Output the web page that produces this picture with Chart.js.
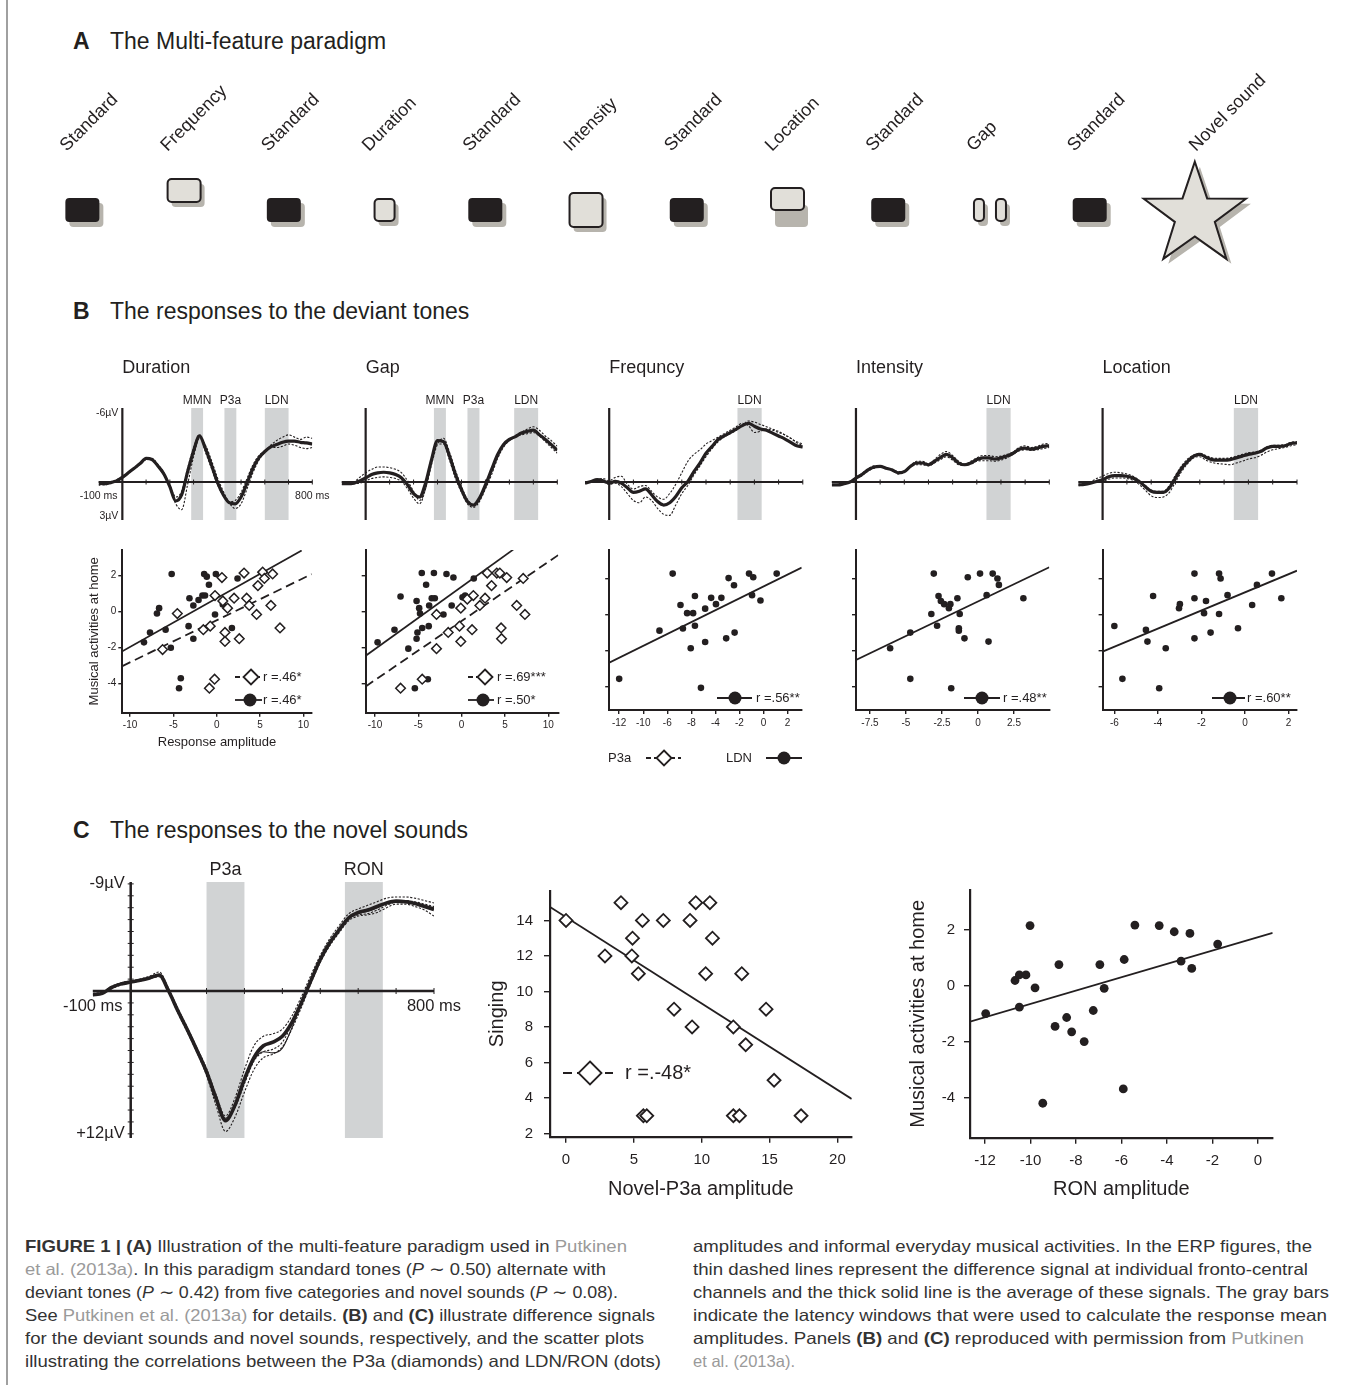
<!DOCTYPE html>
<html>
<head>
<meta charset="utf-8">
<title>Figure 1 - multi-feature paradigm</title>
<script src="https://cdn.jsdelivr.net/npm/chart.js@4.4.1/dist/chart.umd.min.js"></script>
<style>
  body { margin: 0; background: #fff; }
  #page { position: relative; width: 1350px; height: 1385px; overflow: hidden;
          font-family: "Liberation Sans", Arial, Helvetica, sans-serif; color: #231f20; }
  #page canvas { position: absolute; }
  .rule { position: absolute; left: 6px; top: 0; width: 2px; height: 1385px; background: #a0a0a0; }
  .head { position: absolute; left: 73px; font-size: 23px; line-height: 27px; white-space: nowrap; }
  .head b { display: inline-block; width: 37px; }
  .cap { position: absolute; font-size: 16.5px; line-height: 23px; white-space: nowrap; color: #333;
         transform-origin: 0 50%; }
  .cap .ref { color: #9a9a9a; }
</style>
</head>
<body>
<div id="page">
  <div class="rule"></div>
  <div class="head" style="top:28px"><b>A</b>The Multi-feature paradigm</div>
  <div class="head" style="top:298px"><b>B</b>The responses to the deviant tones</div>
  <div class="head" style="top:817px"><b>C</b>The responses to the novel sounds</div>

  <canvas id="paradigm"></canvas>
  <canvas id="erpDur"></canvas>
  <canvas id="erpGap"></canvas>
  <canvas id="erpFreq"></canvas>
  <canvas id="erpInt"></canvas>
  <canvas id="erpLoc"></canvas>
  <canvas id="scDur"></canvas>
  <canvas id="scGap"></canvas>
  <canvas id="scFreq"></canvas>
  <canvas id="scInt"></canvas>
  <canvas id="scLoc"></canvas>
  <canvas id="erpNovel"></canvas>
  <canvas id="scSinging"></canvas>
  <canvas id="scRon"></canvas>

  <div class="cap" data-end="627" style="left:25px;top:1235px"><b>FIGURE 1 | (A)</b> Illustration of the multi-feature paradigm used in <span class="ref">Putkinen</span></div>
  <div class="cap" data-end="606" style="left:25px;top:1258px"><span class="ref">et al. (2013a)</span>. In this paradigm standard tones (<i>P</i> ∼ 0.50) alternate with</div>
  <div class="cap" data-end="618" style="left:25px;top:1281px">deviant tones (<i>P</i> ∼ 0.42) from five categories and novel sounds (<i>P</i> ∼ 0.08).</div>
  <div class="cap" data-end="655" style="left:25px;top:1304px">See <span class="ref">Putkinen et al. (2013a)</span> for details. <b>(B)</b> and <b>(C)</b> illustrate difference signals</div>
  <div class="cap" data-end="644" style="left:25px;top:1327px">for the deviant sounds and novel sounds, respectively, and the scatter plots</div>
  <div class="cap" data-end="661" style="left:25px;top:1350px">illustrating the correlations between the P3a (diamonds) and LDN/RON (dots)</div>

  <div class="cap" data-end="1312" style="left:693px;top:1235px">amplitudes and informal everyday musical activities. In the ERP figures, the</div>
  <div class="cap" data-end="1308" style="left:693px;top:1258px">thin dashed lines represent the difference signal at individual fronto-central</div>
  <div class="cap" data-end="1329" style="left:693px;top:1281px">channels and the thick solid line is the average of these signals. The gray bars</div>
  <div class="cap" data-end="1327" style="left:693px;top:1304px">indicate the latency windows that were used to calculate the response mean</div>
  <div class="cap" data-end="1304" style="left:693px;top:1327px">amplitudes. Panels <b>(B)</b> and <b>(C)</b> reproduced with permission from <span class="ref">Putkinen</span></div>
  <div class="cap" data-end="795" style="left:693px;top:1350px"><span class="ref">et al. (2013a).</span></div>
</div>

<script>
// ---------- Panel A: stimulus sequence ----------
const stimulusLabels = ['Standard', 'Frequency', 'Standard', 'Duration', 'Standard', 'Intensity',
                        'Standard', 'Location', 'Standard', 'Gap', 'Standard', 'Novel sound'];
const stimulusKinds = ['std', 'freq', 'std', 'dur', 'std', 'int', 'std', 'loc', 'std', 'gap', 'std', 'novel'];

// ---------- Panel B: difference waves (µV, negative plotted up) ----------
const erpTimes = [-100, -75, -50, -25, 0, 25, 50, 75, 100, 125, 150, 175, 200, 225, 250, 275, 300, 325,
                  350, 375, 400, 425, 450, 475, 500, 525, 550, 575, 600, 625, 650, 675, 700, 725, 750, 775, 800];
const bTitles = ['Duration', 'Gap', 'Frequncy', 'Intensity', 'Location'];

const durAvg = [0.1, 0.15, 0.05, -0.1, -0.4, -0.8, -1.2, -1.6, -2.05, -1.95, -1.4, -0.7, 0.4, 1.65, 1.1, -0.9, -2.7, -4.0, -2.9,
                -1.5, 0.0, 1.1, 1.8, 1.9, 1.3, 0.1, -1.2, -2.1, -2.65, -3.05, -3.25, -3.45, -3.55, -3.55, -3.45, -3.4, -3.3];
const durCh1 = [0.2, 0.25, 0.1, -0.05, -0.35, -0.75, -1.15, -1.55, -1.95, -2.05, -1.5, -0.8, 0.5, 1.9, 2.4, 0.2, -2.2, -3.8, -3.2,
                -1.9, -0.4, 0.8, 1.8, 2.3, 1.9, 0.6, -0.8, -1.9, -2.6, -3.2, -3.6, -3.9, -4.1, -3.9, -3.7, -3.9, -3.8];
const durCh2 = [0.3, 0.1, 0.0, -0.2, -0.5, -0.85, -1.25, -1.65, -2.05, -1.95, -1.3, -0.6, 0.3, 1.3, 0.8, -1.2, -3.0, -4.1, -2.6,
                -1.2, 0.2, 1.2, 1.7, 1.6, 0.9, -0.3, -1.5, -2.3, -2.7, -3.0, -3.0, -3.1, -3.3, -3.2, -3.0, -2.9, -3.0];
const durWindows = [[290, 340], [430, 480], [600, 700]];
const durWindowNames = ['MMN', 'P3a', 'LDN'];

const gapAvg = [0.15, 0.15, 0.1, -0.1, -0.35, -0.65, -0.8, -0.85, -0.8, -0.65, -0.35, 0.25, 1.0, 1.3, 0.1, -1.95, -3.6, -3.5, -2.25,
                -0.65, 0.65, 1.7, 2.0, 1.4, 0.25, -1.05, -2.35, -3.25, -3.7, -3.95, -4.25, -4.4, -4.5, -4.1, -3.7, -3.25, -2.75];
const gapCh1 = [0.2, 0.1, 0.0, -0.4, -0.8, -1.1, -1.3, -1.3, -1.25, -1.1, -0.8, -0.1, 0.8, 1.6, 0.6, -1.5, -3.3, -3.8, -2.6,
                -1.0, 0.4, 1.5, 2.1, 1.6, 0.5, -0.8, -2.1, -3.1, -3.6, -4.0, -4.3, -4.6, -4.8, -4.5, -4.0, -3.6, -3.1];
const gapCh2 = [0.2, 0.2, 0.15, 0.1, -0.1, -0.3, -0.4, -0.45, -0.4, -0.3, -0.05, 0.6, 1.4, 1.9, 0.6, -1.6, -3.3, -3.3, -1.9,
                -0.3, 0.9, 1.9, 2.2, 1.7, 0.6, -0.6, -2.0, -3.0, -3.6, -3.9, -4.1, -4.2, -4.3, -4.0, -3.5, -3.0, -2.5];
const gapWindows = [[285, 335], [425, 475], [620, 720]];
const gapWindowNames = ['MMN', 'P3a', 'LDN'];

const freqAvg = [0.1, -0.05, -0.2, -0.1, 0.1, -0.05, 0.1, 0.5, 0.9, 0.8, 0.6, 1.1, 1.7, 2.0, 1.8, 1.25, 0.5, -0.05, -0.9,
                 -1.65, -2.5, -3.1, -3.7, -4.0, -4.3, -4.6, -4.9, -5.1, -4.85, -4.6, -4.5, -4.25, -4.0, -3.75, -3.45, -3.15, -3.05];
const freqCh1 = [0.1, 0.0, -0.2, -0.3, -0.1, -0.4, -0.5, 0.2, 0.6, 0.4, 0.3, 0.8, 1.3, 1.5, 1.0, 0.2, -0.8, -1.8, -2.4,
                 -2.8, -3.3, -3.6, -3.9, -4.2, -4.5, -4.8, -5.1, -4.9, -4.3, -4.4, -4.6, -4.5, -4.3, -4.1, -3.8, -3.5, -3.3];
const freqCh2 = [0.1, 0.0, -0.1, 0.0, 0.2, 0.1, 0.4, 1.0, 1.6, 1.8, 1.3, 1.6, 2.3, 2.8, 2.9, 2.0, 1.0, 0.3, -0.6,
                 -1.4, -2.2, -2.9, -3.5, -3.9, -4.2, -4.5, -4.9, -5.3, -5.2, -5.0, -4.8, -4.6, -4.4, -4.1, -3.8, -3.4, -3.2];
const freqWindows = [[530, 630]];

const intAvg = [0.25, 0.25, 0.15, 0.0, -0.35, -0.65, -1.05, -1.3, -1.35, -1.2, -1.05, -0.8, -0.9, -1.35, -1.65, -1.65, -1.5, -1.8, -2.15,
                -2.4, -2.1, -1.65, -1.5, -1.65, -1.95, -2.1, -2.1, -2.0, -2.1, -2.25, -2.5, -2.85, -2.95, -2.85, -2.95, -3.1, -3.15];
const intCh1 = [0.3, 0.2, 0.1, -0.05, -0.4, -0.75, -1.15, -1.4, -1.4, -1.25, -1.0, -0.7, -0.85, -1.4, -1.8, -1.8, -1.6, -1.95, -2.4,
                -2.65, -2.3, -1.8, -1.55, -1.8, -2.1, -2.3, -2.3, -2.2, -2.25, -2.4, -2.6, -3.0, -3.15, -3.0, -3.1, -3.3, -3.35];
const intCh2 = [0.2, 0.3, 0.2, 0.05, -0.3, -0.55, -0.95, -1.2, -1.3, -1.15, -1.1, -0.9, -0.95, -1.3, -1.5, -1.5, -1.4, -1.65, -1.95,
                -2.2, -1.9, -1.5, -1.45, -1.55, -1.8, -1.85, -1.85, -1.8, -1.9, -2.1, -2.4, -2.7, -2.8, -2.75, -2.8, -2.9, -3.0];
const intWindows = [[540, 640]];

const locAvg = [0.25, 0.2, 0.1, -0.05, -0.2, -0.45, -0.55, -0.55, -0.5, -0.35, -0.05, 0.4, 0.8, 0.9, 0.9, 0.5, -0.35, -1.2, -1.8,
                -2.25, -2.4, -2.15, -1.95, -1.9, -1.9, -1.95, -2.1, -2.25, -2.4, -2.5, -2.65, -2.95, -3.1, -3.1, -3.15, -3.35, -3.4];
const locCh1 = [0.3, 0.2, 0.0, -0.3, -0.5, -0.75, -0.85, -0.8, -0.7, -0.5, -0.15, 0.3, 0.7, 0.8, 0.8, 0.3, -0.6, -1.4, -2.0,
                -2.35, -2.5, -2.3, -2.1, -2.05, -2.05, -2.1, -2.25, -2.4, -2.55, -2.6, -2.75, -3.05, -3.2, -3.2, -3.25, -3.45, -3.5];
const locCh2 = [0.2, 0.15, 0.1, 0.0, -0.05, -0.25, -0.35, -0.35, -0.3, -0.15, 0.2, 0.7, 1.2, 1.35, 1.3, 0.9, 0.0, -0.9, -1.6,
                -2.1, -2.2, -1.9, -1.7, -1.6, -1.55, -1.5, -1.65, -1.8, -2.0, -2.1, -2.3, -2.6, -2.8, -2.9, -3.0, -3.15, -3.25];
const locWindows = [[540, 640]];
const ldnOnly = ['LDN'];

const bYLabels = ['-6µV', '3µV'];
const bYLabelValues = [-6, 3];
const msLabels = ['-100 ms', '800 ms'];
const msLabelValues = [-100, 800];

// ---------- Panel B: correlations with musical activities at home ----------
const durLdnX = [-8.4, -7.7, -6.9, -6.65, -5.9, -5.2, -5.3, -4.15, -4.35, -3.15, -3.25, -2.7, -2.7, -2.1, -1.65, -1.35, -1.45, -1.15, -0.9, -0.1, -0.2, 0.7, 1.75, 2.4];
const durLdnY = [-1.7, -1.15, -0.1, 0.2, -1.0, 2.1, -2.0, -3.7, -4.25, 0.75, -0.8, 0.35, -1.5, 0.65, 0.9, 0.9, 2.1, 1.95, 1.5, 2.1, -0.15, 0.4, -0.9, 1.85];
const durP3aX = [-4.55, -6.25, -1.55, -0.75, -0.2, 0.6, 0.7, 1.25, 0.95, 0.95, 2.0, 2.6, 3.15, 3.45, 3.75, 4.6, 4.75, 5.3, 5.5, 6.45, 6.25, 7.3, -0.25, -0.85];
const durP3aY = [-0.1, -2.1, -1.0, -0.8, 0.9, 1.9, 0.6, 0.2, -1.15, -1.65, 0.75, -1.5, 2.15, 0.75, 0.35, -0.15, 1.45, 2.2, 1.85, 2.1, 0.35, -0.9, -3.75, -4.25];
const durLdnFitX = [-10.9, 9.8], durLdnFitY = [-2.2, 3.4];
const durP3aFitX = [-10.9, 10.96], durP3aFitY = [-3.02, 2.09];
const durR = ['r =.46*', 'r =.46*'];

const gapLdnX = [-9.7, -7.75, -7.05, -6.15, -5.2, -4.9, -4.8, -5.2, -5.1, -4.6, -4.55, -4.1, -3.9, -3.75, -3.8, -3.45, -3.1, -3.2, -5.4, -2.1, -1.75, -0.95, -1.15, 0.4, 0.1, 1.4];
const gapLdnY = [-1.7, -1.0, 0.85, -2.05, 0.6, 0.2, -0.1, -1.5, -1.15, 2.15, -0.9, 1.5, -3.75, 0.35, -0.8, 0.75, 0.75, 2.15, -4.25, -0.15, 2.1, 1.9, 0.35, 0.9, 0.8, 1.85];
const gapP3aX = [-7.05, -4.55, -2.9, -2.9, -1.55, -0.25, -0.1, -0.1, 0.65, 1.35, 1.2, 2.1, 2.7, 2.95, 3.45, 4.05, 4.4, 5.2, 4.55, 4.6, 6.35, 7.1, 7.3];
const gapP3aY = [-4.25, -3.75, -2.05, -0.15, -1.15, -0.8, -1.65, 0.2, 0.7, 0.9, -1.0, 0.35, 0.75, 2.15, 1.45, 2.15, 2.15, 1.9, -0.9, -1.5, 0.35, 1.85, -0.15];
const gapLdnFitX = [-11.07, 5.95], gapLdnFitY = [-2.45, 3.45];
const gapP3aFitX = [-11.07, 11.15], gapP3aFitY = [-4.15, 3.15];
const gapR = ['r =.69***', 'r =.50*'];

const freqLdnX = [-12.0, -8.65, -7.55, -6.9, -6.7, -6.35, -5.85, -5.7, -5.7, -6.05, -5.2, -4.85, -4.85, -4.35, -3.95, -3.5, -3.1, -2.9, -2.4, -2.45, -1.2, -0.85, -0.95, -0.25, 1.1];
const freqLdnY = [-3.55, -0.87, 2.3, 0.55, -0.75, 0.1, 0.1, 1.05, -0.6, -1.85, -4.05, -1.5, 0.35, 0.95, 0.6, 0.95, -1.3, 2.05, -0.98, 1.65, 2.3, 2.1, 1.1, 0.8, 2.3];
const freqFitX = [-12.83, 3.18], freqFitY = [-2.65, 2.63];
const freqR = 'r =.56**';

const intLdnX = [-6.1, -4.7, -4.7, -3.24, -3.07, -2.84, -2.74, -2.58, -2.35, -2.02, -1.92, -1.86, -1.43, -1.27, -1.33, -1.33, -0.94, -0.71, 0.14, 0.6, 0.73, 1.02, 1.35, 1.45, 3.15];
const intLdnY = [-1.85, -0.98, -3.55, 0.05, 2.3, -0.6, 1.05, 0.78, 0.6, 0.37, 0.6, -4.07, 0.93, 0.05, -0.74, -0.87, -1.3, 2.1, 2.3, 1.1, -1.48, 2.3, 2.03, 1.67, 0.93];
const intFitX = [-8.47, 4.95], intFitY = [-2.5, 2.65];
const intR = 'r =.48**';

const locLdnX = [-6.0, -5.63, -4.55, -4.48, -4.22, -3.64, -3.94, -3.03, -2.99, -2.32, -2.32, -2.32, -1.88, -1.79, -1.58, -1.19, -1.12, -1.19, -0.8, -0.32, 0.33, 0.55, 1.24, 1.67];
const locLdnY = [-0.61, -3.55, -0.83, -1.48, 1.05, -1.85, -4.07, 0.37, 0.6, 2.3, 0.93, -1.3, 0.1, 0.78, -0.98, 2.3, 2.03, 0.05, 1.1, -0.74, 0.55, 1.67, 2.3, 0.93];
const locFitX = [-6.54, 2.39], locFitY = [-2.04, 2.46];
const locR = 'r =.60**';

const ampTicks10 = [-10, -5, 0, 5, 10];
const ampLabels10 = ['-10', '-5', '0', '5', '10'];
const freqTicks = [-12, -10, -8, -6, -4, -2, 0, 2];
const freqTickLabels = ['-12', '-10', '-6', '-8', '-4', '-2', '0', '2'];   // as printed in the figure
const intTicks = [-7.5, -5, -2.5, 0, 2.5];
const intTickLabels = ['-7.5', '-5', '-2.5', '0', '2.5'];
const locTicks = [-6, -4, -2, 0, 2];
const locTickLabels = ['-6', '-4', '-2', '0', '2'];
const homeTicks = [-4, -2, 0, 2];
const homeTickLabels = ['-4', '-2', '0', '2'];
const bKeyLabels = ['P3a', 'LDN'];

// ---------- Panel C: novel sounds ----------
const novelAvg = [0.3, 0.2, -0.3, -0.6, -0.75, -0.9, -1.1, -1.35, 0.0, 1.7, 3.3, 5.0, 6.8, 9.0, 10.9, 9.6, 7.4, 5.6, 4.6,
                  4.3, 3.8, 2.65, 1.0, -0.85, -2.65, -4.05, -5.15, -6.15, -6.6, -6.8, -7.1, -7.4, -7.55, -7.5, -7.35, -7.1, -6.85];
const novelCh1 = [0.4, 0.1, -0.4, -0.7, -0.85, -1.0, -1.25, -1.6, -0.2, 1.5, 3.1, 4.8, 6.5, 8.7, 10.5, 9.0, 6.6, 4.6, 3.8,
                  3.6, 3.2, 2.1, 0.5, -1.3, -3.0, -4.4, -5.5, -6.5, -6.9, -7.2, -7.5, -7.8, -7.9, -7.9, -7.8, -7.6, -7.4];
const novelCh2 = [0.3, 0.2, -0.2, -0.5, -0.7, -0.85, -1.05, -1.2, 0.1, 1.9, 3.5, 5.2, 7.1, 9.6, 11.8, 10.6, 8.5, 6.6, 5.6,
                  5.3, 4.7, 3.2, 1.4, -0.6, -2.4, -3.8, -4.9, -5.9, -6.3, -6.4, -6.6, -7.0, -7.3, -7.3, -7.1, -6.8, -6.3];
const novelCh3 = [0.2, 0.1, -0.3, -0.6, -0.75, -0.95, -1.15, -1.4, -0.1, 1.6, 3.3, 5.0, 6.9, 9.1, 10.9, 9.8, 7.8, 5.9, 5.1,
                  4.9, 4.3, 2.8, 1.0, -0.9, -2.7, -4.1, -5.2, -6.1, -6.4, -6.5, -6.8, -7.2, -7.5, -7.6, -7.5, -7.3, -7.1];
const novelCh4 = [0.3, 0.2, -0.3, -0.6, -0.75, -0.9, -1.1, -1.3, 0.0, 1.7, 3.3, 5.0, 6.8, 9.0, 10.7, 9.6, 7.6, 5.8, 5.1,
                  5.2, 4.8, 3.1, 1.1, -0.9, -2.7, -4.1, -5.2, -6.1, -6.5, -6.7, -7.0, -7.4, -7.6, -7.6, -7.4, -7.2, -7.0];
const novelWindows = [[200, 300], [565, 665]];
const novelWindowNames = ['P3a', 'RON'];
const cYLabels = ['-9µV', '+12µV'];
const cYLabelValues = [-9, 12];

const novelP3aX = [0, 2.87, 4.05, 4.9, 4.85, 5.33, 5.63, 5.7, 5.95, 7.17, 7.96, 9.14, 9.29, 9.56, 10.29, 10.6, 10.79, 12.33, 12.33, 12.78, 12.95, 13.24, 14.74, 15.33, 17.32];
const singingY = [14, 12, 15, 13, 12, 11, 14, 3, 3, 14, 9, 14, 8, 15, 11, 15, 13, 8, 3, 3, 11, 7, 9, 5, 3];
const novelFitX = [-1.18, 21.05], novelFitY = [14.76, 3.95];
const novelR = 'r =.-48*';
const singingXTicks = [0, 5, 10, 15, 20];
const singingXLabels = ['0', '5', '10', '15', '20'];
const singingYTicks = [2, 4, 6, 8, 10, 12, 14];
const singingYLabels = ['2', '4', '6', '8', '10', '12', '14'];

const ronX = [-11.97, -10.68, -10.49, -10.2, -10.49, -10.02, -9.8, -9.46, -8.92, -8.75, -8.41, -8.19, -7.64, -7.24, -6.95, -6.76, -5.88, -5.92, -5.41, -4.34, -3.68, -3.38, -2.99, -2.91, -1.77];
const ronHomeY = [-0.98, 0.2, 0.4, 0.4, -0.75, 2.16, -0.06, -4.18, -1.44, 0.77, -1.12, -1.63, -1.98, -0.87, 0.77, -0.08, 0.95, -3.67, 2.18, 2.16, 1.94, 0.89, 1.88, 0.63, 1.5];
const ronFitX = [-12.66, 0.65], ronFitY = [-1.27, 1.9];
const ronTicks = [-12, -10, -8, -6, -4, -2, 0];
const ronTickLabels = ['-12', '-10', '-8', '-6', '-4', '-2', '0'];

// ---------- shared setup ----------
const INK = '#231f20';
const BAR = '#d1d3d4';
const SHADOW = '#b7b4ad';
const LIGHT = '#e1dfd9';
const FONT = '"Liberation Sans", Arial, Helvetica, sans-serif';

Chart.defaults.font.family = FONT;
Chart.defaults.color = INK;
Chart.defaults.animation = false;
Chart.defaults.responsive = false;
Chart.defaults.events = [];
Chart.defaults.plugins.legend.display = false;
Chart.defaults.plugins.tooltip.enabled = false;

// put a canvas so that its plot area lands on `area` (page px), leaving margins m = [l, t, r, b]
function place(id, area, m) {
  const c = document.getElementById(id);
  const left = Math.floor(area[0] - m[0]), top = Math.floor(area[1] - m[1]);
  const w = Math.ceil(area[2] + m[2] - left), h = Math.ceil(area[3] + m[3] - top);
  c.style.left = left + 'px';
  c.style.top = top + 'px';
  c.width = w; c.height = h;
  c.style.width = w + 'px'; c.style.height = h + 'px';
  return {
    el: c,
    origin: [left, top],
    pad: {left: area[0] - left, top: area[1] - top, right: left + w - area[2], bottom: top + h - area[3]}
  };
}

function series(xs, ys) { return xs.map((x, i) => ({x: x, y: ys[i]})); }

function marker(ctx, kind, x, y, r, lw) {
  ctx.beginPath();
  if (kind === 'dot') {
    ctx.arc(x, y, r, 0, Math.PI * 2);
    ctx.fillStyle = INK;
    ctx.fill();
  } else {
    ctx.moveTo(x, y - r); ctx.lineTo(x + r, y); ctx.lineTo(x, y + r); ctx.lineTo(x - r, y);
    ctx.closePath();
    ctx.fillStyle = '#fff';
    ctx.fill();
    ctx.lineWidth = lw;
    ctx.strokeStyle = INK;
    ctx.stroke();
  }
}

function roundRect(ctx, x, y, w, h, r) {
  ctx.beginPath();
  ctx.moveTo(x + r, y);
  ctx.arcTo(x + w, y, x + w, y + h, r);
  ctx.arcTo(x + w, y + h, x, y + h, r);
  ctx.arcTo(x, y + h, x, y, r);
  ctx.arcTo(x, y, x + w, y, r);
  ctx.closePath();
}

function starPath(ctx, cx, cy, R, ri) {
  ctx.beginPath();
  for (let k = 0; k < 10; k++) {
    const a = -Math.PI / 2 + k * Math.PI / 5;
    const rr = k % 2 ? ri : R;
    ctx.lineTo(cx + rr * Math.cos(a), cy + rr * Math.sin(a));
  }
  ctx.closePath();
}

// ---------- Panel A ----------
const stimStyle = {
  std:   {w: 34, h: 24, dark: true},
  freq:  {w: 33, h: 23, dy: -19.5, dx: 1},
  dur:   {w: 20, h: 22},
  int:   {w: 33, h: 34},
  loc:   {w: 33, h: 22, dy: -11, sdy: 17},
  gap:   {w: 10, h: 22, split: 11, dx: 1},
  novel: {R: 53.7, ri: 21, dx: 4.4, dy: 5.4}
};

(function () {
  const p = place('paradigm', [32, 60, 1240.8, 275], [0, 0, 45, 0]);
  new Chart(p.el, {
    type: 'scatter',
    data: {datasets: [{data: stimulusLabels.map((_, i) => ({x: i, y: 0})), pointRadius: 0}]},
    options: {
      layout: {padding: p.pad},
      scales: {x: {min: -0.5, max: 11.5, display: false}, y: {min: -1, max: 1, display: false}}
    },
    plugins: [{
      id: 'paradigm',
      afterDatasetsDraw(chart) {
        const ctx = chart.ctx, a = chart.chartArea;
        const pts = chart.getDatasetMeta(0).data;
        const rowY = a.top + 150;
        ctx.save();
        stimulusKinds.forEach((kind, i) => {
          const s = stimStyle[kind];
          const cx = pts[i].x + (s.dx || 0), cy = rowY + (s.dy || 0);
          if (kind === 'novel') {
            starPath(ctx, cx + 5, cy + 5, s.R, s.ri);
            ctx.fillStyle = SHADOW; ctx.fill();
            starPath(ctx, cx, cy, s.R, s.ri);
            ctx.fillStyle = LIGHT; ctx.fill();
            ctx.lineWidth = 2; ctx.strokeStyle = INK; ctx.lineJoin = 'miter'; ctx.stroke();
          } else {
            const offs = s.split ? [-s.split, s.split] : [0];
            offs.forEach(o => {
              const x = cx + o - s.w / 2, y = cy - s.h / 2;
              roundRect(ctx, x + 4, y + (s.sdy || 5), s.w, s.h, 4);
              ctx.fillStyle = SHADOW; ctx.fill();
              roundRect(ctx, x, y, s.w, s.h, 4);
              ctx.fillStyle = s.dark ? INK : LIGHT; ctx.fill();
              if (!s.dark) { ctx.lineWidth = 2; ctx.strokeStyle = INK; ctx.stroke(); }
            });
          }
          // rotated label
          ctx.save();
          ctx.translate(pts[i].x + (kind === 'novel' ? 5.5 : -15.5), a.top + 92);
          ctx.rotate(-Math.PI / 4);
          ctx.font = '18px ' + FONT;
          ctx.fillStyle = INK;
          ctx.textAlign = 'left';
          ctx.textBaseline = 'alphabetic';
          ctx.fillText(stimulusLabels[i], 0, 0);
          ctx.restore();
        });
        ctx.restore();
      }
    }]
  });
})();

// ---------- ERP panels ----------
function erpChart(id, area, m, o) {
  const p = place(id, area, m);
  const datasets = o.channels.map((ch, i) => ({
    data: series(erpTimes, ch), borderColor: INK, borderWidth: o.thinW,
    borderDash: (o.solid && o.solid[i]) ? [] : [2.2, 1.6],
    pointRadius: 0, cubicInterpolationMode: 'monotone', order: 2
  }));
  datasets.push({data: series(erpTimes, o.avg), borderColor: INK, borderWidth: o.thickW,
                 pointRadius: 0, cubicInterpolationMode: 'monotone', order: 1});
  new Chart(p.el, {
    type: 'line',
    data: {datasets: datasets},
    options: {
      layout: {padding: p.pad},
      scales: {
        x: {type: 'linear', min: -100, max: 800, display: false},
        y: {type: 'linear', min: o.yMin, max: o.yMax, reverse: true, display: false}
      }
    },
    plugins: [{
      id: 'erpDecor',
      beforeDatasetsDraw(chart) {
        const ctx = chart.ctx, a = chart.chartArea, x = chart.scales.x, y = chart.scales.y;
        ctx.save();
        ctx.fillStyle = BAR;
        o.windows.forEach(w => {
          const x0 = x.getPixelForValue(w[0]), x1 = x.getPixelForValue(w[1]);
          ctx.fillRect(x0, a.top, x1 - x0, a.bottom - a.top);
        });
        ctx.fillStyle = INK;
        ctx.font = o.winFont;
        ctx.textAlign = 'center';
        ctx.textBaseline = 'middle';
        o.windows.forEach((w, i) => {
          ctx.fillText(o.winNames[i], (x.getPixelForValue(w[0]) + x.getPixelForValue(w[1])) / 2, a.top - o.winGap);
        });
        if (o.title) {
          ctx.font = '18px ' + FONT;
          ctx.textAlign = 'left';
          ctx.fillText(o.title, x.getPixelForValue(0), a.top - 40);
        }
        const ox = x.getPixelForValue(0), oy = y.getPixelForValue(0);
        ctx.strokeStyle = INK;
        ctx.lineWidth = o.axisW;
        ctx.beginPath();
        ctx.moveTo(ox, a.top); ctx.lineTo(ox, a.bottom);
        ctx.moveTo(a.left, oy); ctx.lineTo(a.right, oy);
        ctx.stroke();
        ctx.lineWidth = 1;
        ctx.beginPath();
        for (let t = 100; t <= 800; t += 100) {
          const px = x.getPixelForValue(t);
          ctx.moveTo(px, oy - o.tick); ctx.lineTo(px, oy + o.tick);
        }
        if (o.yStep) {
          for (let v = Math.ceil(o.yMin); v <= o.yMax; v += o.yStep) {
            const py = y.getPixelForValue(v);
            ctx.moveTo(ox - o.tick, py); ctx.lineTo(ox + o.tick, py);
          }
        }
        ctx.stroke();
        if (o.yLabels) {
          ctx.font = o.labFont;
          ctx.textAlign = 'right';
          o.yLabels.forEach((t, i) => ctx.fillText(t, ox - o.yLabGap, y.getPixelForValue(o.yLabelValues[i])));
          ctx.textAlign = 'center';
          msLabels.forEach((t, i) => ctx.fillText(t, x.getPixelForValue(msLabelValues[i]), oy + o.msDy));
        }
        ctx.restore();
      }
    }]
  });
}

const bErp = {thinW: 1.1, thickW: 3.2, axisW: 2.2, tick: 2.5, yMin: -6.43, yMax: 3.3,
              winFont: '12px ' + FONT, winGap: 7, labFont: '10.5px ' + FONT, yLabGap: 4, msDy: 14};
const bMargins = [30, 55, 25, 12];

erpChart('erpDur', [98.6, 408, 312.3, 520], bMargins, Object.assign({}, bErp, {
  title: bTitles[0], avg: durAvg, channels: [durCh1, durCh2], windows: durWindows, winNames: durWindowNames,
  yLabels: bYLabels, yLabelValues: bYLabelValues}));
erpChart('erpGap', [341.7, 408, 557.3, 520], bMargins, Object.assign({}, bErp, {
  title: bTitles[1], avg: gapAvg, channels: [gapCh1, gapCh2], windows: gapWindows, winNames: gapWindowNames}));
erpChart('erpFreq', [585, 408, 802.8, 520], bMargins, Object.assign({}, bErp, {
  title: bTitles[2], avg: freqAvg, channels: [freqCh1, freqCh2], windows: freqWindows, winNames: ldnOnly}));
erpChart('erpInt', [831.8, 408, 1049.3, 520], bMargins, Object.assign({}, bErp, {
  title: bTitles[3], avg: intAvg, channels: [intCh1, intCh2], windows: intWindows, winNames: ldnOnly}));
erpChart('erpLoc', [1078.3, 408, 1297, 520], bMargins, Object.assign({}, bErp, {
  title: bTitles[4], avg: locAvg, channels: [locCh1, locCh2], windows: locWindows, winNames: ldnOnly}));

erpChart('erpNovel', [92.8, 882, 434, 1138], [70, 35, 40, 10], {
  thinW: 1.1, thickW: 3.6, axisW: 2.5, tick: 3, yStep: 1, yMin: -9.16, yMax: 12.35,
  avg: novelAvg, channels: [novelCh1, novelCh2, novelCh3, novelCh4], solid: [false, false, false, true],
  windows: novelWindows, winNames: novelWindowNames, winFont: '18px ' + FONT, winGap: 12,
  labFont: '16.5px ' + FONT, yLabels: cYLabels, yLabelValues: cYLabelValues, yLabGap: 6, msDy: 15});

// ---------- scatter panels ----------
function dots(xs, ys, r) {
  return {data: series(xs, ys), pointStyle: 'circle', pointRadius: r, backgroundColor: INK, borderWidth: 0, order: 1};
}
function diamonds(xs, ys, r, lw) {
  return {data: series(xs, ys), pointStyle: 'rectRot', pointRadius: r, backgroundColor: '#fff',
          borderColor: INK, borderWidth: lw, order: 1};
}
function fitLine(xs, ys, dashed, lw) {
  return {type: 'line', data: series(xs, ys), borderColor: INK, borderWidth: lw,
          borderDash: dashed ? [9, 5] : [], pointRadius: 0, order: 2};
}

function scatterChart(id, area, m, o) {
  const p = place(id, area, m);
  const axis = (k) => {
    const isX = k === 'x';
    const ticks = isX ? o.xTicks : o.yTicks;
    const labels = isX ? o.xLabels : o.yLabels;
    const title = isX ? o.xTitle : o.yTitle;
    const range = isX ? o.xRange : o.yRange;
    return {
      type: 'linear', min: range[0], max: range[1],
      afterBuildTicks: s => { s.ticks = ticks.map(v => ({value: v})); },
      afterFit: s => { if (isX) s.height = p.pad.bottom; else s.width = p.pad.left; },
      ticks: {autoSkip: false, maxRotation: 0, minRotation: 0, padding: isX ? o.xPad : o.yPad, color: INK,
              font: {size: o.tickSize}, callback: (v, i) => labels ? labels[i] : ''},
      grid: {drawOnChartArea: false, drawTicks: true, tickLength: o.tickLen, color: INK, lineWidth: 1.4},
      border: {display: true, color: INK, width: o.axisW},
      title: title ? {display: true, text: title, color: INK, font: {size: o.titleSize}, padding: 0} : {display: false}
    };
  };
  new Chart(p.el, {
    type: 'scatter',
    data: {datasets: o.datasets},
    options: {
      layout: {padding: {left: 0, bottom: 0, top: p.pad.top, right: p.pad.right}},
      scales: {x: axis('x'), y: axis('y')}
    },
    plugins: [{
      id: 'keys',
      afterDraw(chart) {
        const ctx = chart.ctx, ox = p.origin[0], oy = p.origin[1];
        ctx.save();
        (o.keys || []).forEach(it => {
          const y = it.y - oy;
          ctx.strokeStyle = INK;
          ctx.lineWidth = it.lw;
          ctx.setLineDash(it.kind === 'diamond' ? it.dash : []);
          ctx.beginPath(); ctx.moveTo(it.x0 - ox, y); ctx.lineTo(it.x1 - ox, y); ctx.stroke();
          ctx.setLineDash([]);
          marker(ctx, it.kind, it.mx - ox, y, it.r, it.lw);
          ctx.fillStyle = INK;
          ctx.font = o.keyFont;
          ctx.textAlign = 'left';
          ctx.textBaseline = 'middle';
          ctx.fillText(it.text, it.tx - ox, y);
        });
        ctx.restore();
      }
    }]
  });
}

const bSc = {tickSize: 10, tickLen: 4, axisW: 2, xPad: 3, yPad: 2, titleSize: 13, keyFont: '13px ' + FONT};
const homeRangeA = [-5.61, 3.43], homeRangeB = [-5.28, 3.61];
const keyDia = {kind: 'diamond', r: 7.5, lw: 1.8, dash: [5, 3]};
const keyDot = {kind: 'dot', r: 6.5, lw: 1.8};

scatterChart('scDur', [122.3, 550, 311.7, 712.7], [35.1, 8, 10, 37.1], Object.assign({}, bSc, {
  xRange: [-10.9, 10.96], yRange: homeRangeA, xTicks: ampTicks10, xLabels: ampLabels10,
  yTicks: homeTicks, yLabels: homeTickLabels, xTitle: 'Response amplitude', yTitle: 'Musical activities at home',
  datasets: [diamonds(durP3aX, durP3aY, 4.8, 1.5), dots(durLdnX, durLdnY, 3.3),
             fitLine(durLdnFitX, durLdnFitY, false, 1.8), fitLine(durP3aFitX, durP3aFitY, true, 1.8)],
  keys: [Object.assign({}, keyDia, {x0: 235, x1: 260, mx: 251, tx: 263, y: 677, text: durR[0]}),
         Object.assign({}, keyDot, {x0: 235, x1: 262, mx: 250, tx: 263, y: 700, text: durR[1]})]}));

scatterChart('scGap', [365.7, 550, 558.3, 712.7], [25, 8, 10, 20], Object.assign({}, bSc, {
  xRange: [-11.07, 11.15], yRange: homeRangeA, xTicks: ampTicks10, xLabels: ampLabels10, yTicks: homeTicks,
  datasets: [diamonds(gapP3aX, gapP3aY, 4.8, 1.5), dots(gapLdnX, gapLdnY, 3.3),
             fitLine(gapLdnFitX, gapLdnFitY, false, 1.8), fitLine(gapP3aFitX, gapP3aFitY, true, 1.8)],
  keys: [Object.assign({}, keyDia, {x0: 468, x1: 493, mx: 485, tx: 497, y: 677, text: gapR[0]}),
         Object.assign({}, keyDot, {x0: 468, x1: 494, mx: 483, tx: 497, y: 700, text: gapR[1]})]}));

scatterChart('scFreq', [609.2, 550, 801.7, 710], [25, 8, 10, 62], Object.assign({}, bSc, {
  xRange: [-12.83, 3.18], yRange: homeRangeB, xTicks: freqTicks, xLabels: freqTickLabels, yTicks: homeTicks,
  datasets: [dots(freqLdnX, freqLdnY, 3.3), fitLine(freqFitX, freqFitY, false, 1.8)],
  keys: [Object.assign({}, keyDot, {x0: 717, x1: 752, mx: 735, tx: 756, y: 698, text: freqR}),
         Object.assign({}, keyDia, {x0: 646, x1: 681, mx: 664, tx: 608, y: 758, text: bKeyLabels[0]}),
         Object.assign({}, keyDot, {x0: 766, x1: 802, mx: 784, tx: 726, y: 758, text: bKeyLabels[1]})]}));

scatterChart('scInt', [856, 550, 1049.3, 710], [25, 8, 10, 20], Object.assign({}, bSc, {
  xRange: [-8.47, 4.95], yRange: homeRangeB, xTicks: intTicks, xLabels: intTickLabels, yTicks: homeTicks,
  datasets: [dots(intLdnX, intLdnY, 3.3), fitLine(intFitX, intFitY, false, 1.8)],
  keys: [Object.assign({}, keyDot, {x0: 964, x1: 1000, mx: 982, tx: 1003, y: 698, text: intR})]}));

scatterChart('scLoc', [1102.6, 550, 1297, 710], [25, 8, 10, 20], Object.assign({}, bSc, {
  xRange: [-6.54, 2.39], yRange: homeRangeB, xTicks: locTicks, xLabels: locTickLabels, yTicks: homeTicks,
  datasets: [dots(locLdnX, locLdnY, 3.3), fitLine(locFitX, locFitY, false, 1.8)],
  keys: [Object.assign({}, keyDot, {x0: 1212, x1: 1245, mx: 1230, tx: 1247, y: 698, text: locR})]}));

const cSc = {tickSize: 15, tickLen: 6, axisW: 2.2, xPad: 8, yPad: 11, titleSize: 20, keyFont: '20px ' + FONT};

scatterChart('scSinging', [550, 881.7, 851.7, 1136.7], [65, 10, 20, 64.3], Object.assign({}, cSc, {
  xRange: [-1.18, 21.05], yRange: [1.82, 15.66], xTicks: singingXTicks, xLabels: singingXLabels,
  yTicks: singingYTicks, yLabels: singingYLabels, xTitle: 'Novel-P3a amplitude', yTitle: 'Singing',
  datasets: [diamonds(novelP3aX, singingY, 6.5, 1.8), fitLine(novelFitX, novelFitY, false, 1.8)],
  keys: [{kind: 'diamond', r: 11.5, lw: 1.8, dash: [9, 5], x0: 563, x1: 613, mx: 590, tx: 625, y: 1073, text: novelR}]}));

scatterChart('scRon', [970, 882.7, 1272.7, 1137.7], [64, 10, 20, 63.3], Object.assign({}, cSc, {
  yPad: 9, xRange: [-12.66, 0.65], yRange: [-5.41, 3.43], xTicks: ronTicks, xLabels: ronTickLabels,
  yTicks: homeTicks, yLabels: homeTickLabels, xTitle: 'RON amplitude', yTitle: 'Musical activities at home',
  datasets: [dots(ronX, ronHomeY, 4.4), fitLine(ronFitX, ronFitY, false, 1.8)]}));

// caption lines: stretch each line to the width it has in the figure
document.querySelectorAll('.cap').forEach(el => {
  const target = +el.dataset.end - parseFloat(el.style.left);
  const w = el.getBoundingClientRect().width;
  if (w > 0) el.style.transform = 'scaleX(' + (target / w).toFixed(4) + ')';
});
</script>
</body>
</html>
